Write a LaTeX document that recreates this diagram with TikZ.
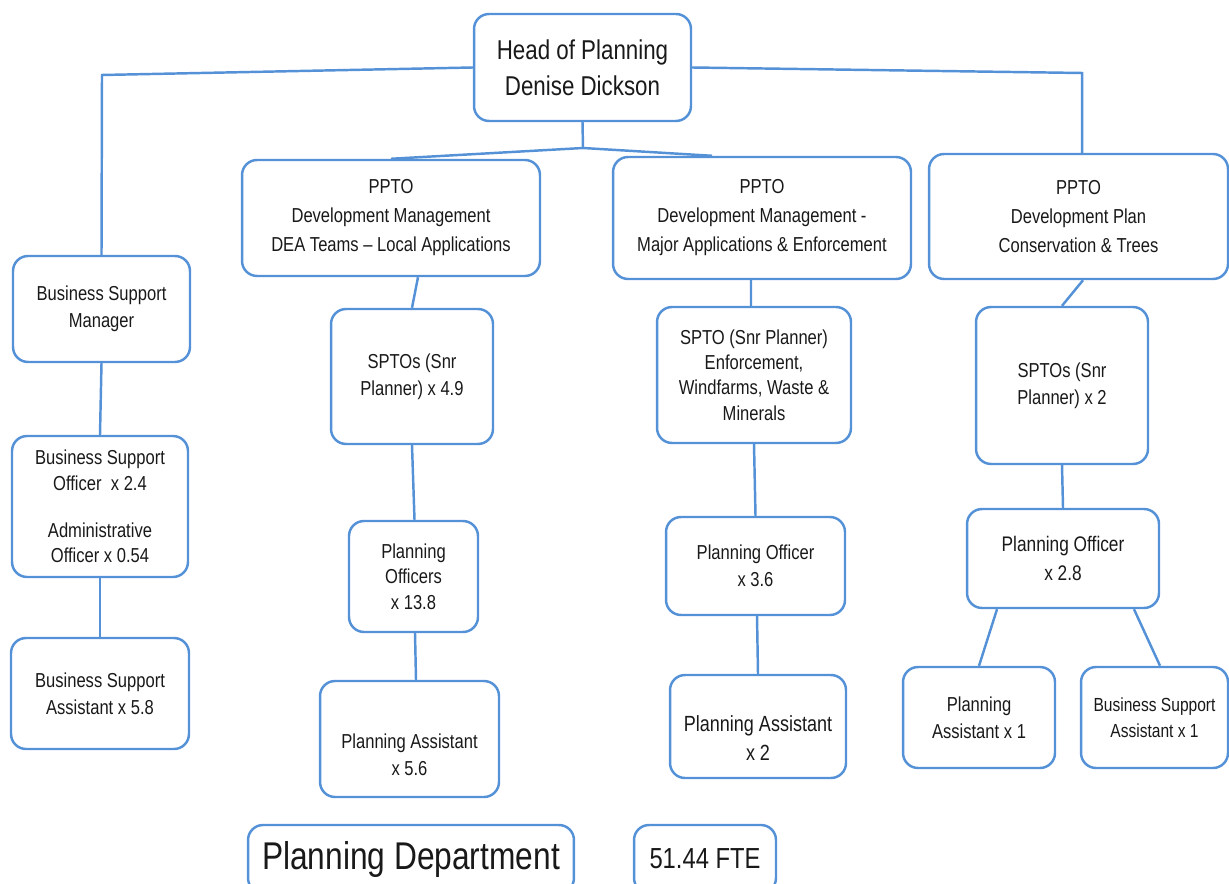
\documentclass[tikz,border=0pt]{standalone}
\usepackage{fontspec}
\setmainfont{Liberation Sans}[FakeStretch=0.82]
\usepackage{xcolor}
\usepackage{tikz}

\definecolor{chartblue}{RGB}{84,145,214}
\definecolor{chartink}{RGB}{25,25,25}

\tikzset{
  box/.style={draw=chartblue,line width=1.4pt,rounded corners=0.3cm,align=center,
    text=chartink,inner sep=2pt,font=\fontsize{11.5}{15.5}\selectfont},
  link/.style={draw=chartblue,line width=1.4pt}
}

\begin{document}
\begin{tikzpicture}[x=0.02cm,y=-0.02cm]
\useasboundingbox (0,0) rectangle (1229,884);
% top
\node (head) at (582.5,67.5) [box,minimum width=4.34cm,minimum height=2.14cm,font=\fontsize{15.5}{20.5}\selectfont] {Head of Planning\\Denise Dickson};
% business support column
\node (bsm) at (101.5,309) [box,minimum width=3.54cm,minimum height=2.12cm] {Business Support\\Manager};
\node (bso) at (100,506.5) [box,minimum width=3.52cm,minimum height=2.82cm,font=\fontsize{11.5}{14.5}\selectfont] {Business Support\\Officer\ \ x 2.4\\[12pt]Administrative\\Officer x 0.54};
\node (bsa) at (100,693.5) [box,minimum width=3.56cm,minimum height=2.22cm] {Business Support\\Assistant x 5.8};
% local applications column
\node (ppto1) at (391,218) [box,minimum width=5.96cm,minimum height=2.32cm,font=\fontsize{11.5}{16.5}\selectfont] {PPTO\\Development Management\\DEA Teams -- Local Applications};
\node (sptos1) at (412,376.5) [box,minimum width=3.24cm,minimum height=2.7cm] {SPTOs (Snr\\Planner) x 4.9};
\node (po1) at (413.5,576.5) [box,minimum width=2.58cm,minimum height=2.22cm,font=\fontsize{11.5}{14.5}\selectfont] {Planning\\Officers\\x 13.8};
\node (pa1) at (409.5,739) [box,minimum width=3.58cm,minimum height=2.32cm] {\\[10.5pt]Planning Assistant\\x 5.6};
% major applications column
\node (ppto2) at (762,218) [box,minimum width=5.96cm,minimum height=2.44cm,font=\fontsize{11.5}{16.5}\selectfont] {PPTO\\Development Management -\\Major Applications \& Enforcement};
\node (spto2) at (754,375) [box,minimum width=3.88cm,minimum height=2.72cm,font=\fontsize{11.5}{14.5}\selectfont] {SPTO (Snr Planner)\\Enforcement,\\Windfarms, Waste \&\\Minerals};
\node (po2) at (755.5,566) [box,minimum width=3.58cm,minimum height=1.96cm] {Planning Officer\\x 3.6};
\node (pa2) at (758,726.5) [box,minimum width=3.52cm,minimum height=2.06cm,font=\fontsize{12.5}{16.5}\selectfont] {\\[6pt]Planning Assistant\\x 2};
% development plan column
\node (ppto3) at (1078.5,216.5) [box,minimum width=5.98cm,minimum height=2.5cm,font=\fontsize{11.5}{16.5}\selectfont] {PPTO\\Development Plan\\Conservation \& Trees};
\node (sptos3) at (1062,385.5) [box,minimum width=3.44cm,minimum height=3.14cm] {SPTOs (Snr\\Planner) x 2};
\node (po3) at (1063,558.5) [box,minimum width=3.84cm,minimum height=1.98cm,font=\fontsize{12}{16}\selectfont] {Planning Officer\\x 2.8};
\node (pa3) at (979,717.5) [box,minimum width=3.04cm,minimum height=2.02cm,font=\fontsize{11.5}{15.5}\selectfont] {Planning\\Assistant x 1};
\node (bsa3) at (1154.5,717.5) [box,minimum width=2.94cm,minimum height=2.02cm,font=\fontsize{10.8}{15}\selectfont] {Business Support\\Assistant x 1};
% footer
\node (dept) at (411,859) [box,minimum width=6.52cm,minimum height=1.36cm,font=\fontsize{22}{26}\selectfont] {Planning Department};
\node (fte) at (705,859) [box,minimum width=2.84cm,minimum height=1.36cm,font=\fontsize{16.5}{20}\selectfont] {51.44 FTE};

\coordinate (lbend) at (102,75);
\coordinate (rbend) at (1082,73);
\coordinate (mid) at (583,148);

\draw [link] (head.west) -- (lbend) -- (bsm.north);
\draw [link] (head.east) -- (rbend) -- (ppto3.north -| rbend);
\draw [link] (head.south) -- (mid);
\draw [link] (mid) -- (ppto1.north);
\draw [link] (mid) -- ([xshift=-1cm]ppto2.north);
\draw [link] (bsm.south) -- (bso.north);
\draw [link] (bso.south) -- (bsa.north);
\draw [link] ([xshift=0.54cm]ppto1.south) -- (sptos1.north);
\draw [link] (sptos1.south) -- ([xshift=0.02cm]po1.north);
\draw [link] ([xshift=0.03cm]po1.south) -- ([xshift=0.13cm]pa1.north);
\draw [link] ([xshift=-0.22cm]ppto2.south) -- ([xshift=-0.06cm]spto2.north);
\draw [link] (spto2.south) -- (po2.north);
\draw [link] ([xshift=0.03cm]po2.south) -- (pa2.north);
\draw [link] ([xshift=0.09cm]ppto3.south) -- (sptos3.north);
\draw [link] (sptos3.south) -- (po3.north);
\draw [link] ([xshift=-1.32cm]po3.south) -- (pa3.north);
\draw [link] ([xshift=1.42cm]po3.south) -- ([xshift=0.11cm]bsa3.north);
\end{tikzpicture}
\end{document}
